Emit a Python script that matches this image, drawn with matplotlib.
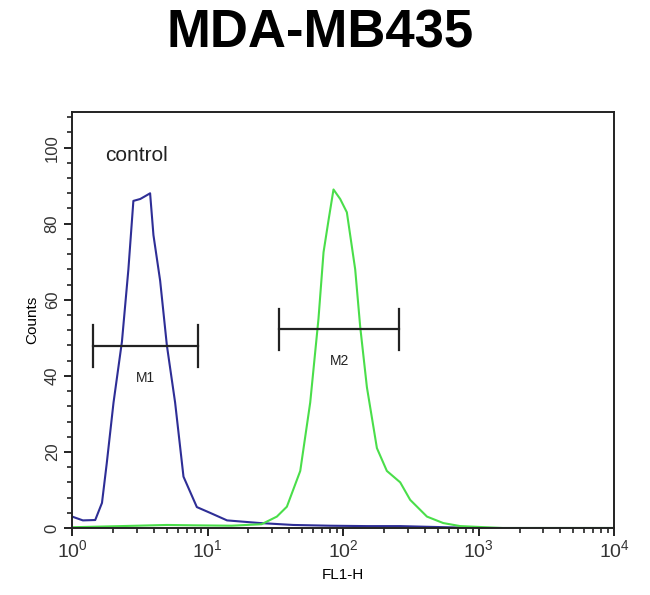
import numpy as np
import matplotlib.pyplot as plt
from matplotlib.ticker import LogLocator, MultipleLocator, NullFormatter

plt.rcParams['font.family'] = ['Liberation Sans', 'DejaVu Sans']
plt.rcParams['mathtext.fontset'] = 'custom'
plt.rcParams['mathtext.rm'] = 'Liberation Sans'

# Histogram traces (FL1-H, counts)
control_x = [1.0, 1.2, 1.48, 1.66, 1.80, 2.02, 2.33, 2.60, 2.83, 3.18, 3.56, 3.76, 3.98,
             4.46, 5.00, 5.75, 6.63, 8.32, 10.4, 13.9, 24.4, 42.7, 80, 150, 263, 440, 1000, 10000]
control_y = [3.0, 2.0, 2.1, 6.6, 17, 33, 49, 68, 86, 86.5, 87.5, 88, 77,
             65, 48, 33, 13.5, 5.5, 4.0, 2.0, 1.3, 0.8, 0.6, 0.5, 0.5, 0.3, 0.0, 0.0]

sample_x = [1.0, 3.0, 5.0, 8.0, 15, 25, 32.4, 38.4, 48.2, 57.1, 65.7, 71.6, 78.0, 84.8,
            95.0, 106.4, 122.6, 133.4, 149.6, 177.3, 210, 263.4, 312, 415, 547, 730, 1500, 10000]
sample_y = [0.2, 0.6, 0.8, 0.7, 0.6, 1.0, 3.0, 5.6, 15, 33, 55, 72.5, 81, 89,
            86.5, 83, 68, 53, 37, 21, 15, 12, 7.4, 3.0, 1.3, 0.5, 0.0, 0.0]

# marker gates
gate_names = ['M1', 'M2']
gate_left = [1.43, 33.7]
gate_right = [8.5, 259]
gate_level = [47.8, 52.2]

fig = plt.figure(figsize=(6.5, 5.95), dpi=100)
ax = fig.add_axes([0.111, 0.1126, 0.834, 0.7])

ax.plot(control_x, control_y, color='#2e2e96', lw=1.5)
ax.plot(sample_x, sample_y, color='#4ade4a', lw=1.5)

for name, lo, hi, lev in zip(gate_names, gate_left, gate_right, gate_level):
    ax.plot([lo, hi], [lev, lev], color='#222222', lw=1.6)
    ax.plot([lo, lo], [lev - 5.5, lev + 5.5], color='#222222', lw=1.6)
    ax.plot([hi, hi], [lev - 5.5, lev + 5.5], color='#222222', lw=1.6)
    ax.text(np.sqrt(lo * hi), lev - 8.3, name, ha='center', va='center', fontsize=10, color='#222222')

ax.text(1.75, 98, 'control', fontsize=15, color='#222222', ha='left', va='center')

ax.set_xscale('log')
ax.set_xlim(1, 10000)
ax.set_ylim(0, 109.5)
ax.xaxis.set_major_locator(LogLocator(base=10, numticks=10))
ax.xaxis.set_minor_locator(LogLocator(base=10, subs=np.arange(2, 10), numticks=10))
ax.xaxis.set_minor_formatter(NullFormatter())
ax.yaxis.set_major_locator(MultipleLocator(20))
ax.yaxis.set_minor_locator(MultipleLocator(4))

ax.set_yticks([0, 20, 40, 60, 80, 100])
ax.set_yticklabels(['0', '20', '40', '60', '80', '100'], rotation=90, va='center')
ax.tick_params(axis='both', which='major', direction='out', length=6, width=1.4, colors='#222222',
               labelcolor='#333333')
ax.tick_params(axis='both', which='minor', direction='out', length=3.5, width=1.2, colors='#222222')
ax.tick_params(axis='x', labelsize=14, pad=2)
ax.tick_params(axis='y', labelsize=12, pad=3)
for sp in ax.spines.values():
    sp.set_linewidth(1.4)
    sp.set_color('#222222')

ax.set_xlabel('FL1-H', fontsize=11, labelpad=5)
ax.set_ylabel('Counts', fontsize=11, labelpad=4)

fig.text(0.493, 0.943, 'MDA-MB435', fontsize=38, fontweight='bold', ha='center', va='center')

fig.savefig('out.png', dpi=100)
